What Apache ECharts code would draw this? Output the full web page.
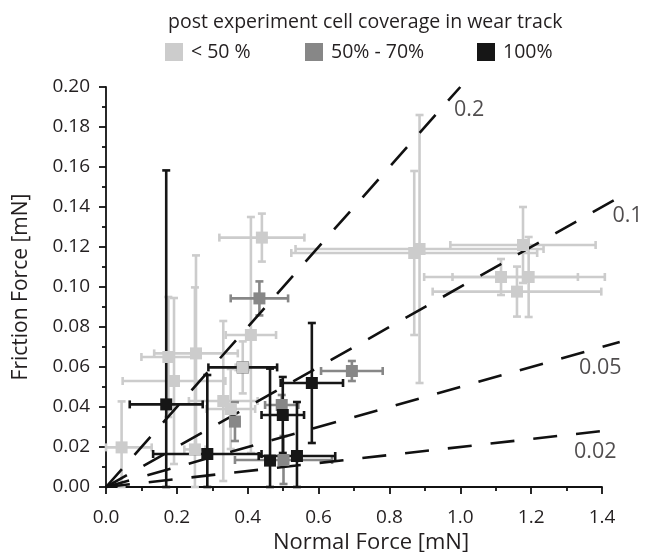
<!DOCTYPE html>
<html><head><meta charset="utf-8">
<script src="https://cdn.jsdelivr.net/npm/echarts@6/dist/echarts.min.js"></script>
<style>html,body{margin:0;padding:0;background:#fff}#c{width:653px;height:552px}</style>
</head><body><div id="c"></div>
<script>
// ---- data ----
const groupNames = ['< 50 %', '50% - 70%', '100%'];
const groupColors = ['#cccccc', '#878787', '#161616'];

// < 50 % coverage (light grey)
const lightX    = [0.044, 0.192, 0.176, 0.254, 0.251, 0.331, 0.352, 0.386, 0.409, 0.440, 0.870, 0.885, 1.177, 1.115, 1.193, 1.160];
const lightY    = [0.0198, 0.053, 0.065, 0.0668, 0.0188, 0.043, 0.039, 0.0598, 0.076, 0.1247, 0.117, 0.119, 0.121, 0.105, 0.105, 0.0977];
const lightXErr = [0.085, 0.145, 0.076, 0.118, 0.030, 0.097, 0.069, 0.020, 0.071, 0.120, 0.347, 0.350, 0.205, 0.217, 0.215, 0.238];
const lightYErr = [0.023, 0.0415, 0.030, 0.049, 0.081, 0.040, 0.020, 0.013, 0.059, 0.012, 0.041, 0.067, 0.019, 0.009, 0.020, 0.0125];

// 50% - 70% coverage (mid grey)
const midX    = [0.433, 0.364, 0.694, 0.501, 0.496];
const midY    = [0.0943, 0.0327, 0.058, 0.0135, 0.041];
const midXErr = [0.081, 0.008, 0.087, 0.137, 0.047];
const midYErr = [0.0085, 0.0097, 0.005, 0.012, 0.005];

// 100% coverage (black)
const fullX    = [0.170, 0.286, 0.386, 0.463, 0.539, 0.499, 0.581];
const fullY    = [0.0413, 0.0165, 0.0598, 0.0132, 0.0155, 0.036, 0.052];
const fullXErr = [0.103, 0.153, 0.097, 0.010, 0.108, 0.060, 0.088];
const fullYErr = [0.117, 0.0395, 0.002, 0.046, 0.027, 0.019, 0.030];

// reference friction coefficient lines
const refSlopes = [0.2, 0.1, 0.05, 0.02];
const refEndX   = [1.0, 1.46, 1.45, 1.42];
const refLabels = ['0.2', '0.1', '0.05', '0.02'];
const refLabelX = [1.025, 1.472, 1.395, 1.381];
const refLabelY = [0.1885, 0.1355, 0.0595, 0.0175];

const legendTitle = 'post experiment cell coverage in wear track';
const xTitle = 'Normal Force [mN]';
const yTitle = 'Friction Force [mN]';

// ---- chart ----
const FONT = 'Open Sans';
const TXT = '#231f20';

function pack(xs, ys, xe, ye) { return xs.map((x, i) => [x, ys[i], xe[i], ye[i]]); }
const groups = [
  pack(lightX, lightY, lightXErr, lightYErr),
  pack(midX, midY, midXErr, midYErr),
  pack(fullX, fullY, fullXErr, fullYErr)
];

function errRender(color) {
  return function (params, api) {
    const x = api.value(0), y = api.value(1), xe = api.value(2), ye = api.value(3);
    const x0 = Math.max(0, x - xe), x1 = x + xe;
    const y0 = Math.max(0, y - ye), y1 = y + ye;
    const pL = api.coord([x0, y]), pR = api.coord([x1, y]);
    const pB = api.coord([x, y0]), pT = api.coord([x, y1]);
    const st = { stroke: color, lineWidth: 2.6, fill: null };
    const c = 4;
    const ln = (a, b, d, e) => ({ type: 'line', shape: { x1: a, y1: b, x2: d, y2: e }, style: st });
    return {
      type: 'group',
      children: [
        ln(pL[0], pL[1], pR[0], pR[1]),
        ln(pL[0], pL[1] - c, pL[0], pL[1] + c),
        ln(pR[0], pR[1] - c, pR[0], pR[1] + c),
        ln(pB[0], pB[1], pT[0], pT[1]),
        ln(pB[0] - c, pB[1], pB[0] + c, pB[1]),
        ln(pT[0] - c, pT[1], pT[0] + c, pT[1])
      ]
    };
  };
}

const series = [];
const errZ = [1, 2, 3];
const symZ = [7, 5, 6];
groups.forEach((data, i) => {
  series.push({
    type: 'custom', name: groupNames[i] + ' err', renderItem: errRender(groupColors[i]),
    data: data, encode: { x: 0, y: 1 }, z: errZ[i], silent: true
  });
});
series.push({
  type: 'custom', name: 'ref lines', silent: true, z: 4, clip: false,
  data: refSlopes.map((s, i) => [refEndX[i], s * refEndX[i]]),
  encode: { x: 0, y: 1 },
  renderItem: function (params, api) {
    const p0 = api.coord([0, 0]);
    const p1 = api.coord([api.value(0), api.value(1)]);
    return {
      type: 'line', shape: { x1: p0[0], y1: p0[1], x2: p1[0], y2: p1[1] },
      style: { stroke: '#111', lineWidth: 2.6, lineDash: [24, 19], fill: null }
    };
  }
});
groups.forEach((data, i) => {
  series.push({
    type: 'scatter', name: groupNames[i], data: data.map(d => [d[0], d[1]]),
    symbol: 'rect', symbolSize: 12, z: symZ[i],
    itemStyle: { color: groupColors[i], opacity: 1 }
  });
});
series.push({
  type: 'scatter', name: 'ref labels', symbolSize: 0, clip: false, silent: true, z: 8,
  data: refLabelX.map((x, i) => ({ value: [x, refLabelY[i]], label: { formatter: refLabels[i] } })),
  label: { show: true, position: 'inside', color: TXT, fontFamily: FONT, fontSize: 21.5 }
});

const legendLeft = [165, 305, 477];
const legends = groupNames.map((n, i) => ({
  data: [n], left: legendLeft[i], top: 42, itemWidth: 18, itemHeight: 18, itemGap: 0,
  icon: 'rect', selectedMode: false, padding: 0,
  textStyle: { fontFamily: FONT, fontSize: 19.5, color: TXT, padding: [0, 0, 0, 3] }
}));

const chart = echarts.init(document.getElementById('c'), null, { renderer: 'canvas' });
chart.setOption({
  animation: false,
  backgroundColor: '#fff',
  title: {
    text: legendTitle, left: 163, top: 7,
    textStyle: { fontFamily: FONT, fontSize: 19.5, fontWeight: 'normal', color: TXT }
  },
  legend: legends,
  grid: { left: 106, right: 51, top: 87, bottom: 65, outerBoundsMode: 'none', containLabel: false },
  xAxis: {
    type: 'value', min: 0, max: 1.4, interval: 0.2,
    name: xTitle, nameLocation: 'middle', nameGap: 41,
    nameTextStyle: { fontFamily: FONT, fontSize: 22, color: TXT, padding: [0, 0, 0, 34] },
    axisLine: { show: true, lineStyle: { color: '#111', width: 1.8 } },
    axisTick: { show: true, length: 7, lineStyle: { color: '#111', width: 1.8 } },
    minorTick: { show: true, splitNumber: 2, length: 4, lineStyle: { color: '#111', width: 1.8 } },
    splitLine: { show: false },
    axisLabel: { fontFamily: FONT, fontSize: 19, color: TXT, margin: 21, formatter: v => v.toFixed(1) }
  },
  yAxis: {
    type: 'value', min: 0, max: 0.2, interval: 0.02,
    name: yTitle, nameLocation: 'middle', nameGap: 74,
    nameTextStyle: { fontFamily: FONT, fontSize: 21, color: TXT },
    axisLine: { show: true, lineStyle: { color: '#111', width: 1.8 } },
    axisTick: { show: true, length: 7, lineStyle: { color: '#111', width: 1.8 } },
    minorTick: { show: true, splitNumber: 2, length: 4, lineStyle: { color: '#111', width: 1.8 } },
    splitLine: { show: false },
    axisLabel: { fontFamily: FONT, fontSize: 19, color: TXT, margin: 16, formatter: v => v.toFixed(2) }
  },
  series: series
});
</script></body></html>
